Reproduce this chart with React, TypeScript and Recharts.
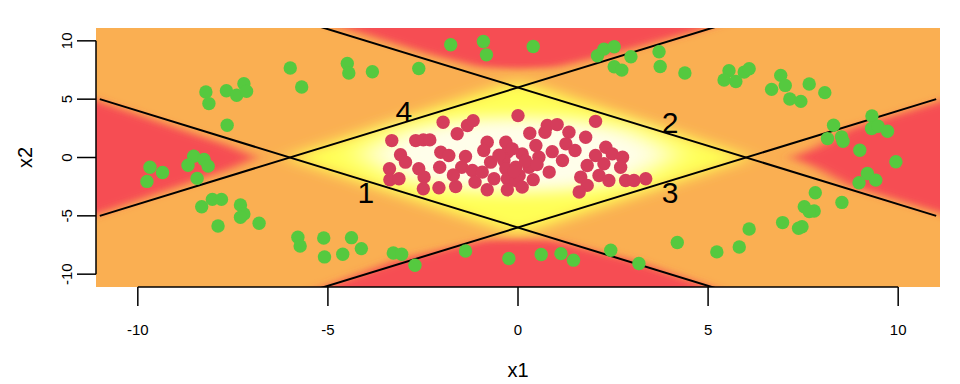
import React from "react";
import {
  ComposedChart,
  Area,
  Line,
  Scatter,
  XAxis,
  YAxis,
  ReferenceLine,
  Label,
} from "recharts";

const FONT = '"Liberation Sans", Arial, Helvetica, sans-serif';

const AXIS_MIN = -11.1;
const AXIS_MAX = 11.1;
const axisTicks = [-10, -5, 0, 5, 10];

// class "outside" points (green)
const greenPoints: [number, number][] = [
  [-5.99, 7.67], [-5.69, 6.04], [-8.21, 5.61], [-8.13, 4.62], [-7.67, 5.72],
  [-7.4, 5.33], [-7.21, 6.32], [-7.14, 5.67], [-7.65, 2.76], [-9.68, -0.83],
  [-9.35, -1.28], [-9.76, -2.05], [-8.53, 0.11], [-8.68, -0.66], [-8.26, -0.17],
  [-8.15, -0.74], [-8.44, -1.79], [-8.32, -4.22], [-8.04, -3.59], [-7.8, -3.59],
  [-7.3, -4.07], [-7.21, -4.84], [-7.3, -5.13], [-7.89, -5.87], [-6.81, -5.64],
  [-5.79, -6.84], [-5.73, -7.58], [-5.11, -6.9], [-5.09, -8.52],
  [-4.49, 8.06], [-4.45, 7.24], [-3.83, 7.35], [-2.61, 7.63], [-1.77, 9.66],
  [-0.91, 9.94], [-0.83, 8.8], [0.4, 9.51], [2.09, 8.72], [2.26, 9.29],
  [2.53, 9.49], [2.97, 8.63], [2.53, 7.78], [2.73, 7.49], [3.71, 9.06],
  [3.74, 7.8], [4.39, 7.24],
  [5.55, 7.44], [5.42, 6.64], [5.73, 6.52], [5.95, 7.32], [6.08, 7.61],
  [6.91, 7.04], [7.03, 6.18], [6.67, 5.84], [7.15, 5.01], [7.44, 4.81],
  [7.66, 6.3], [8.07, 5.56],
  [8.3, 2.76], [8.14, 1.62], [8.51, 1.77], [8.55, 1.39], [9.31, 3.56],
  [9.3, 2.48], [9.47, 2.68], [9.72, 2.25], [8.99, 0.62], [9.94, -0.37],
  [9.19, -1.37], [9.41, -1.94], [8.97, -2.16],
  [7.82, -3.02], [8.52, -3.85], [7.53, -4.22], [7.79, -4.59], [7.66, -4.64],
  [6.96, -5.58], [7.47, -5.93], [7.38, -6.07], [6.08, -6.13], [5.23, -8.09],
  [-4.61, -8.29], [-4.38, -6.87], [-4.12, -7.81], [-3.28, -8.18], [-3.06, -8.29],
  [-2.71, -9.23], [-1.38, -8.01], [-0.24, -8.66], [0.61, -8.32], [1.13, -8.24],
  [1.46, -8.8], [2.44, -7.95], [3.18, -9.09], [4.19, -7.29], [5.82, -7.67],
];

// class "inside" points (red)
const redPoints: [number, number][] = [
  [-1.97, 3.02], [-1.6, 2.03], [-1.33, 2.74], [-1.18, 3.16], [-3.32, 1.45],
  [-2.69, 1.45], [-2.49, 1.51], [-2.32, 1.51], [-3.09, 0.23], [-2.96, -0.4],
  [-3.38, -0.97], [-3.37, -1.91], [-3.13, -1.82], [-2.61, -0.97], [-2.47, -1.68],
  [-2.49, -2.68], [-2.08, -2.59], [-2.06, -0.83], [-2.03, 0.45], [-1.82, 0.17],
  [-1.64, -2.48], [-1.38, 0.09], [-1.48, -0.83], [-1.2, -1.11], [-1.13, -2.11],
  [-0.81, 1.31], [-0.81, -2.76], [-0.94, -1.25], [-0.72, -0.4], [-0.63, -1.82],
  [-0.32, 1.31], [-0.28, 0.45], [-0.37, -0.26], [-0.32, -0.97], [-0.28, -1.82],
  [-0.28, -2.76], [0.0, 3.59], [-0.06, -0.83], [-0.06, -1.97],
  [2.04, 3.1], [0.77, 2.74], [1.03, 2.82], [1.34, 2.17], [0.71, 2.17],
  [0.31, 2.08], [1.78, 1.74], [1.26, 1.17], [0.47, 1.03], [2.31, 0.88],
  [2.04, 0.17], [2.48, 0.31], [2.75, 0.03], [2.7, -0.83], [2.26, -0.54],
  [1.82, -0.68], [1.17, -0.26], [0.55, 0.03], [0.11, 0.31], [-0.15, 0.74],
  [0.29, -0.83], [0.82, -1.25], [0.03, -1.54], [1.65, -1.68], [2.13, -1.54],
  [2.39, -1.97], [1.82, -2.39], [1.61, -2.96], [2.83, -1.97], [3.05, -1.97],
  [3.36, -1.82], [0.11, -2.54],
  [-0.5, 0.2], [0.2, -0.3], [-0.1, -1.2], [0.5, -0.6], [-0.9, 0.6],
  [0.9, 0.5], [-1.7, -1.5], [1.5, 0.6], [0.4, -1.9],
];

// hidden-unit boundary lines x2 = slope * x1 + intercept
const boundarySlopes = [-1, -1, 1, 1];
const boundaryIntercepts = [-6, 6, 6, -6];
const boundaryXRange = [-11, 11];

const lineLabelText = ["1", "2", "3", "4"];
const lineLabelX = [-4, 4, 4, -3];
const lineLabelY = [-3, 3, -3, 4];

// background shading regions: [x1, low x2, high x2]
const baseRegion: [number, number, number][] = [[-14, -14, 14], [14, -14, 14]];
const redLeft: [number, number, number][] = [
  [-14, -8, 8], [-11.1, -4.9, 4.9], [-8.5, -2.0, 2.0], [-7.6, -1.0, 1.0], [-6.9, 0, 0],
];
const redRight: [number, number, number][] = [
  [7.2, 0, 0], [7.8, -0.8, 0.8], [8.7, -2.4, 2.45], [11.1, -4.75, 4.8], [14, -7.6, 7.6],
];
const redTop: [number, number, number][] = [
  [-7.5, 14, 14], [-4.3, 10.85, 14], [-2.34, 8.86, 14], [-1.0, 7.75, 14], [0, 7.6, 14],
  [1.0, 7.75, 14], [2.45, 8.86, 14], [4.68, 10.85, 14], [7.7, 14, 14],
];
const redBottom: [number, number, number][] = [
  [-7.5, -14, -14], [-4.8, -14, -10.77], [-3.2, -14, -8.8], [-0.9, -14, -7.1], [0, -14, -7.0],
  [0.9, -14, -7.1], [3.0, -14, -8.8], [4.76, -14, -10.77], [7.5, -14, -14],
];
const diamondRegion: [number, number, number][] = [[-6.1, 0, 0], [0, -6.6, 6.6], [6.1, 0, 0]];
const centreRegion: [number, number, number][] = [
  [-4.2, 0.3, 0.3], [-3, -2.0, 2.4], [-1.5, -2.8, 3.3], [0, -3.0, 3.5],
  [1.5, -2.8, 3.3], [3, -2.0, 2.4], [4.2, 0.3, 0.3],
];

const toBand = (rows: [number, number, number][]) =>
  rows.map(([x, lo, hi]) => ({ x, band: [lo, hi] }));
const toXY = (pts: [number, number][]) => pts.map(([x, y]) => ({ x, y }));

const boundaryLines = boundarySlopes.map((m, i) =>
  boundaryXRange.map((x) => ({ x, y: m * x + boundaryIntercepts[i] }))
);
const lineLabels = lineLabelText.map((text, i) => ({
  x: lineLabelX[i],
  y: lineLabelY[i],
  text,
}));

const regions = [
  { key: "base", rows: baseRegion, fill: "#FAAF52", cls: "" },
  { key: "redLeft", rows: redLeft, fill: "#F64D53", cls: "bg-red" },
  { key: "redRight", rows: redRight, fill: "#F64D53", cls: "bg-red" },
  { key: "redTop", rows: redTop, fill: "#F64D53", cls: "bg-red" },
  { key: "redBottom", rows: redBottom, fill: "#F64D53", cls: "bg-red" },
  { key: "diamond", rows: diamondRegion, fill: "#FFFF55", cls: "bg-yellow" },
  { key: "centre", rows: centreRegion, fill: "#FFFEEA", cls: "bg-centre" },
];

function YTick({ x, y, payload }: any) {
  return (
    <text
      transform={`translate(${x - 3}, ${y}) rotate(-90)`}
      textAnchor="middle"
      fontSize={15}
      fontFamily={FONT}
      fill="#000"
    >
      {payload.value}
    </text>
  );
}

function Dot(color: string) {
  return (p: any) => <circle cx={p.cx} cy={p.cy} r={6.7} fill={color} />;
}

function NumberLabel(p: any) {
  return (
    <text
      x={p.cx}
      y={p.cy + 10.7}
      textAnchor="middle"
      fontSize={30}
      fontFamily={FONT}
      fill="#000"
    >
      {p.payload.text}
    </text>
  );
}

export default function App() {
  return (
    <div style={{ position: "absolute", left: 0, top: 0, width: 960, height: 384, background: "#fff" }}>
      <style>{`
        .bg-red .recharts-area-area { filter: url(#blur-red); }
        .bg-yellow .recharts-area-area { filter: url(#blur-yellow); }
        .bg-centre .recharts-area-area { filter: url(#blur-centre); }
      `}</style>
      <svg width={0} height={0} style={{ position: "absolute" }}>
        <defs>
          <filter id="blur-red" x="-30%" y="-30%" width="160%" height="160%">
            <feGaussianBlur stdDeviation="8 3" />
          </filter>
          <filter id="blur-yellow" x="-40%" y="-40%" width="180%" height="180%">
            <feGaussianBlur stdDeviation="12 6" />
          </filter>
          <filter id="blur-centre" x="-50%" y="-50%" width="200%" height="200%">
            <feGaussianBlur stdDeviation="18 8" />
          </filter>
        </defs>
      </svg>
      <ComposedChart width={960} height={384} margin={{ top: 28, right: 20, bottom: 0, left: 0 }}>
        <XAxis
          type="number"
          dataKey="x"
          domain={[AXIS_MIN, AXIS_MAX]}
          allowDataOverflow
          ticks={axisTicks}
          height={97}
          axisLine={false}
          stroke="#000"
          tickLine={{ stroke: "#000", strokeWidth: 1.5 }}
          tickSize={19}
          tickMargin={18}
          tick={{ fontSize: 15, fill: "#000", fontFamily: FONT }}
        >
          <Label
            content={({ viewBox }: any) => (
              <text
                x={viewBox.x + viewBox.width / 2}
                y={viewBox.y + 90}
                textAnchor="middle"
                fontSize={20}
                fontFamily={FONT}
                fill="#000"
              >
                x1
              </text>
            )}
          />
        </XAxis>
        <YAxis
          type="number"
          dataKey="y"
          domain={[AXIS_MIN, AXIS_MAX]}
          allowDataOverflow
          ticks={axisTicks}
          width={96}
          axisLine={false}
          stroke="#000"
          tickLine={{ stroke: "#000", strokeWidth: 1.5 }}
          tickSize={19}
          tickMargin={2}
          tick={<YTick />}
        >
          <Label
            content={({ viewBox }: any) => (
              <text
                transform={`translate(${viewBox.x + 32}, ${viewBox.y + viewBox.height / 2}) rotate(-90)`}
                textAnchor="middle"
                fontSize={20}
                fontFamily={FONT}
                fill="#000"
              >
                x2
              </text>
            )}
          />
        </YAxis>

        {regions.map((r) => (
          <Area
            key={r.key}
            data={toBand(r.rows)}
            dataKey="band"
            type="linear"
            className={r.cls}
            fill={r.fill}
            fillOpacity={1}
            stroke="none"
            dot={false}
            activeDot={false}
            legendType="none"
            isAnimationActive={false}
          />
        ))}

        <Scatter data={toXY(greenPoints)} shape={Dot("#55C93F")} isAnimationActive={false} />
        <Scatter data={toXY(redPoints)} shape={Dot("#D53D5B")} isAnimationActive={false} />

        {boundaryLines.map((d, i) => (
          <Line
            key={i}
            data={d}
            dataKey="y"
            type="linear"
            stroke="#000"
            strokeWidth={2}
            dot={false}
            activeDot={false}
            isAnimationActive={false}
          />
        ))}

        <Scatter data={lineLabels} shape={NumberLabel} isAnimationActive={false} />

        <ReferenceLine
          segment={[{ x: axisTicks[0], y: AXIS_MIN }, { x: axisTicks[4], y: AXIS_MIN }]}
          stroke="#000"
          strokeWidth={1.5}
          ifOverflow="visible"
        />
        <ReferenceLine
          segment={[{ x: AXIS_MIN, y: axisTicks[0] }, { x: AXIS_MIN, y: axisTicks[4] }]}
          stroke="#000"
          strokeWidth={1.5}
          ifOverflow="visible"
        />
      </ComposedChart>
    </div>
  );
}
